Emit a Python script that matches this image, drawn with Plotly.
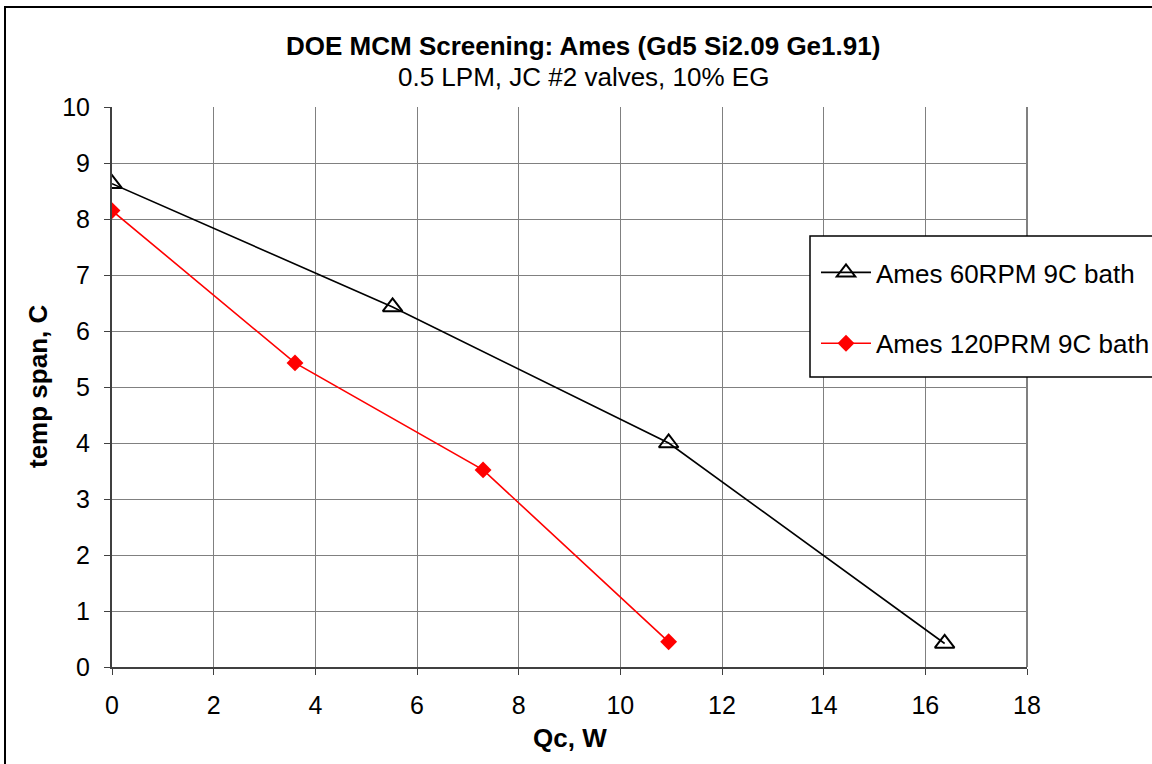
import plotly.graph_objects as go

x60 = [0.0, 5.52, 10.95, 16.38]
y60 = [8.63, 6.43, 4.0, 0.42]
x120 = [0.0, 3.6, 7.3, 10.95]
y120 = [8.15, 5.43, 3.52, 0.45]
name60 = "Ames 60RPM 9C bath"
name120 = "Ames 120PRM 9C bath"
title = "DOE MCM Screening: Ames (Gd5 Si2.09 Ge1.91)"
subtitle = "0.5 LPM, JC #2 valves, 10% EG"
xtitle = "Qc, W"
ytitle = "temp span, C"

FONT = "Liberation Sans, Arial, sans-serif"

# plot area in pixels
L, R, T, B = 112, 1027, 107, 667
W, H = 1152, 764
pw, ph = R - L, B - T


def px(x):
    return (x - L) / pw


def py(y):
    return (B - y) / ph


fig = go.Figure()
fig.add_trace(go.Scatter(
    x=x60, y=y60, mode="lines+markers", name=name60, legendgroup="a",
    line=dict(color="black", width=1.6),
    marker=dict(symbol="triangle-up-open", size=17, color="black", line=dict(width=2)),
))
fig.add_trace(go.Scatter(
    x=x120, y=y120, mode="lines+markers", name=name120, legendgroup="b",
    line=dict(color="#ff0000", width=1.6),
    marker=dict(symbol="diamond", size=13, color="#ff0000"),
))

axis_common = dict(
    showgrid=True, gridcolor="#808080", gridwidth=1,
    showline=True, linecolor="#404040", linewidth=2,
    ticks="outside", ticklen=6, tickcolor="#404040",
    zeroline=False, tickfont=dict(size=25, color="black", family=FONT),
)
fig.update_xaxes(range=[0, 18], dtick=2, tick0=0, ticklabelstandoff=9, automargin=False, **axis_common)
fig.update_yaxes(range=[0, 10], dtick=1, tick0=0, ticklabelstandoff=9, automargin=False, **axis_common)

# right border of plot area (gray)
fig.add_shape(type="line", xref="paper", yref="paper", x0=1, x1=1, y0=0, y1=1,
              line=dict(color="#808080", width=2))
# outer chart frame
fig.add_shape(type="rect", xref="paper", yref="paper",
              x0=px(5), x1=px(1170), y0=py(780), y1=py(7),
              line=dict(color="black", width=2), fillcolor="rgba(0,0,0,0)", layer="below")
# legend box
fig.add_shape(type="rect", xref="paper", yref="paper",
              x0=px(810), x1=px(1170), y0=py(377), y1=py(236),
              line=dict(color="black", width=1.5), fillcolor="white", layer="above")

fig.add_annotation(text="<b>" + title + "</b>", xref="paper", yref="paper",
                   x=px(583), y=py(46), showarrow=False, yanchor="middle",
                   font=dict(size=26, family=FONT, color="black"))
fig.add_annotation(text=subtitle, xref="paper", yref="paper",
                   x=px(583), y=py(77), showarrow=False, yanchor="middle",
                   font=dict(size=26, family=FONT, color="black"))
fig.add_annotation(text="<b>" + xtitle + "</b>", xref="paper", yref="paper",
                   x=0.5, y=py(738), showarrow=False, yanchor="middle",
                   font=dict(size=26, family=FONT, color="black"))
fig.add_annotation(text="<b>" + ytitle + "</b>", xref="paper", yref="paper",
                   x=px(38), y=0.5, showarrow=False, xanchor="center", yanchor="middle",
                   textangle=-90, font=dict(size=26, family=FONT, color="black"))

fig.update_layout(
    width=W, height=H,
    margin=dict(l=L, r=W - R, t=T, b=H - B, autoexpand=False),
    paper_bgcolor="white", plot_bgcolor="white",
    font=dict(family=FONT, color="black"),
    showlegend=True,
    legend=dict(x=px(816), y=py(249), xanchor="left", yanchor="top",
                borderwidth=0, bgcolor="rgba(0,0,0,0)",
                font=dict(size=26, family=FONT), traceorder="grouped",
                tracegroupgap=34, itemwidth=50),
)

fig.write_html("out.html")
